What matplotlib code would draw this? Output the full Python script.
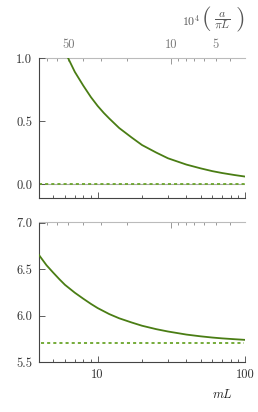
import matplotlib
matplotlib.use('Agg')
import matplotlib.pyplot as plt
import matplotlib.ticker as mticker
import numpy as np

plt.rcParams['font.family'] = 'serif'
plt.rcParams['font.serif'] = ['cmr10', 'DejaVu Serif']
plt.rcParams['mathtext.fontset'] = 'cm'
plt.rcParams['axes.formatter.use_mathtext'] = True
plt.rcParams['font.size'] = 9

# data
mL_top = [6.3, 7, 8, 9, 10, 11, 12, 14, 17, 20, 25, 30, 40, 50, 60, 70, 85, 100]
val_top = [1.0, 0.89, 0.78, 0.69, 0.62, 0.565, 0.52, 0.445, 0.37, 0.31, 0.25, 0.205,
           0.155, 0.125, 0.103, 0.088, 0.072, 0.06]
limit_top = 0.0

mL_bot = [4, 4.5, 5, 5.5, 6, 7, 8, 9, 10, 12, 14, 17, 20, 25, 30, 40, 50, 60, 70, 85, 100]
val_bot = [6.65, 6.54, 6.46, 6.39, 6.33, 6.245, 6.18, 6.125, 6.08, 6.015, 5.97, 5.925,
           5.89, 5.853, 5.828, 5.795, 5.776, 5.763, 5.754, 5.745, 5.738]
limit_bot = 5.70

conv = 316.0   # 10^4 a/(pi L) = conv / mL

solid_c = '#4a7d14'
dash_c = '#6aa52a'
dark = '#444444'
light = '#bbbbbb'

fig = plt.figure(figsize=(2.58, 4.12), dpi=100)
ax1 = fig.add_axes([39/258, 1-198/412, 206/258, 140/412])
ax2 = fig.add_axes([39/258, 1-362/412, 206/258, 139.5/412])


def inv(x):
    x = np.asarray(x, dtype=float)
    with np.errstate(divide='ignore'):
        return conv / x


def style(ax, ylim, yticks):
    ax.set_xscale('log')
    ax.set_xlim(4, 100)
    ax.set_ylim(*ylim)
    ax.set_yticks(yticks)
    ax.yaxis.set_major_formatter(mticker.FormatStrFormatter('%.1f'))
    ax.spines['right'].set_visible(False)
    ax.spines['top'].set_visible(False)
    for s in ('left', 'bottom'):
        ax.spines[s].set_color(dark)
        ax.spines[s].set_linewidth(0.8)
    ax.tick_params(axis='both', which='both', direction='in', color=dark,
                   labelcolor='#333333', width=0.6, pad=5)
    ax.tick_params(axis='both', which='major', length=4)
    ax.tick_params(axis='both', which='minor', length=2)
    ax.tick_params(axis='y', which='minor', left=False)
    ax.xaxis.set_major_locator(mticker.FixedLocator([10, 100]))
    ax.xaxis.set_minor_locator(mticker.LogLocator(base=10, subs=np.arange(2, 10)))
    ax.xaxis.set_minor_formatter(mticker.NullFormatter())
    ax.xaxis.set_major_formatter(mticker.FuncFormatter(lambda v, p: '%d' % v))

    sec = ax.secondary_xaxis('top', functions=(inv, inv))
    sec.xaxis.set_major_locator(mticker.FixedLocator([10]))
    sec.xaxis.set_minor_locator(mticker.FixedLocator(
        [3, 4, 5, 6, 7, 8, 9, 20, 30, 40, 50, 60, 70]))
    sec.spines['top'].set_color(light)
    sec.spines['top'].set_linewidth(0.8)
    sec.tick_params(axis='x', which='both', direction='in', color='#888888',
                    labelcolor='#777777', width=0.6, pad=5)
    sec.tick_params(axis='x', which='major', length=4)
    sec.tick_params(axis='x', which='minor', length=2)
    return sec


sec1 = style(ax1, (-0.11, 1.0), [0.0, 0.5, 1.0])
sec2 = style(ax2, (5.5, 7.0), [5.5, 6.0, 6.5, 7.0])

sec1.xaxis.set_major_formatter(mticker.FuncFormatter(lambda v, p: '%d' % round(v)))
sec1.xaxis.set_minor_formatter(mticker.FuncFormatter(
    lambda v, p: '%d' % round(v) if round(v) in (5, 50) else ''))
sec2.xaxis.set_major_formatter(mticker.NullFormatter())
sec2.xaxis.set_minor_formatter(mticker.NullFormatter())
ax1.xaxis.set_major_formatter(mticker.NullFormatter())

ax1.axhline(limit_top, color='#aaaaaa', lw=0.8, zorder=1)
ax1.plot([4, 100], [limit_top, limit_top], color=dash_c, lw=1.3,
         dashes=(1.7, 1.7), zorder=2)
ax1.plot(mL_top, val_top, color=solid_c, lw=1.3, zorder=3)

ax2.plot([4.1, 98], [limit_bot, limit_bot], color=dash_c, lw=1.3,
         dashes=(1.7, 1.7), zorder=2)
ax2.plot(mL_bot, val_bot, color=solid_c, lw=1.3, zorder=3)

# top-axis label, built from pieces so the brackets are full height
lab_c = '#555555'
fig.text(191/258, 1-21/412, r'$10^4$', ha='center', va='center',
         color=lab_c, fontsize=8.5)
fig.text(206/258, 1-19/412, '(', ha='center', va='center',
         color=lab_c, fontsize=18)
fig.text(222.5/258, 1-20.5/412, r'$\dfrac{a}{\pi L}$', ha='center', va='center',
         color=lab_c, fontsize=8.5)
fig.text(240/258, 1-19/412, ')', ha='center', va='center',
         color=lab_c, fontsize=18)
fig.text(223/258, 1-394/412, r'$mL$', ha='center', va='center',
         color='#222222', fontsize=9)

fig.savefig('out.png', dpi=100)
